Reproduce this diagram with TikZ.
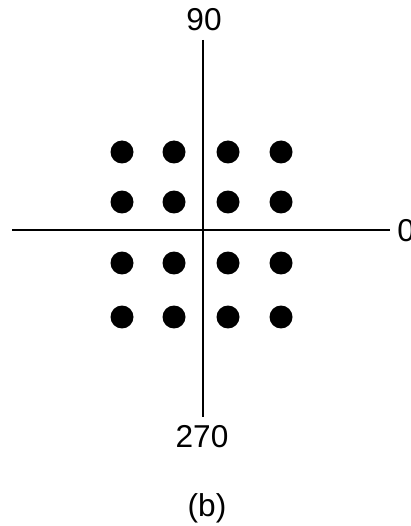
\documentclass[tikz,border=0pt]{standalone}
\usepackage{fontspec}
\setmainfont{Liberation Sans}
\usetikzlibrary{positioning}
\tikzset{
  axisline/.style={line width=1.1pt,draw=black},
  axislabel/.style={font=\fontsize{18}{20}\selectfont,inner sep=0pt},
  symdot/.style={circle,fill=black,inner sep=0pt,minimum size=0.46cm}
}
\begin{document}
\begin{tikzpicture}[x=0.02cm,y=-0.02cm]
\useasboundingbox (0,0) rectangle (410,526);
% axes
\coordinate (top) at (203,40);
\coordinate (bottom) at (203,417);
\coordinate (left) at (12,230);
\coordinate (right) at (390,230);
\draw[axisline] (top) -- (bottom);
\draw[axisline] (left) -- (right);
\node[axislabel] (lab90) at (204,20) {90};
\node[axislabel] (lab270) at (202,437) {270};
\node[axislabel,anchor=west] (lab0) at (397,231) {0};
\node[axislabel] (caption) at (207,508) {(b)};
% constellation points
\foreach \px [count=\i] in {122,174,228,281}
  \foreach \py [count=\j] in {152,202,263,317}
    \node[symdot] (pt\i\j) at (\px,\py) {};
\end{tikzpicture}
\end{document}
